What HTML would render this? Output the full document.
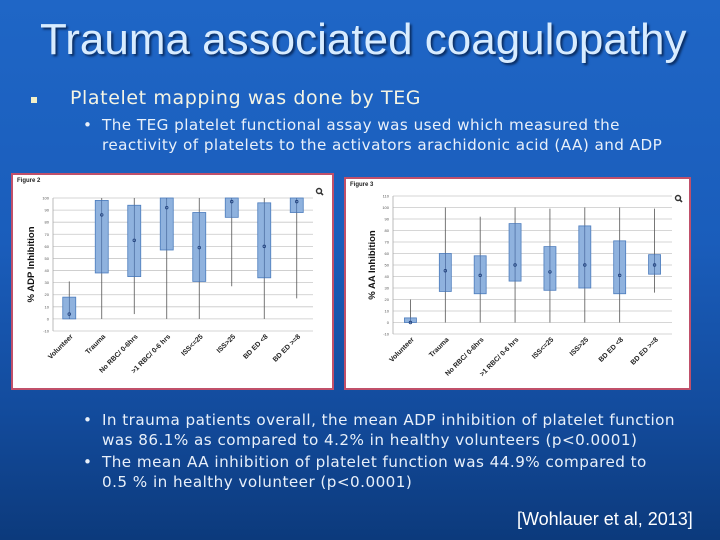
<!DOCTYPE html>
<html><head><meta charset="utf-8"><style>
body{margin:0;width:720px;height:540px;overflow:hidden;font-family:"Liberation Sans",sans-serif;}
#slide{position:relative;width:720px;height:540px;background:linear-gradient(180deg,#1f66c6 0%,#1a5dbb 45%,#134c9e 75%,#0c3a7c 100%);color:#fff;}
.t{position:absolute;white-space:nowrap;}
.v{font-family:"DejaVu Sans",sans-serif;}
.sb{font-size:15.2px;letter-spacing:0.45px;color:#e8f0fa;}
</style></head><body>
<div id="slide">
<div class="t" style="left:40px;top:15px;font-size:44px;color:#d8ecff;text-shadow:2px 2px 2px #0a2c60;">Trauma associated coagulopathy</div>
<div class="t" style="left:31px;top:97px;width:6px;height:6px;background:#f3f0c8"></div>
<div class="t v" style="left:70px;top:87px;font-size:19px;letter-spacing:0.6px;color:#f4f4e4">Platelet mapping was done by TEG</div>
<div class="t v sb" style="left:83px;top:115px;line-height:20px">•</div>
<div class="t v sb" style="left:102px;top:115px;line-height:20px">The TEG platelet functional assay was used which measured the<br>reactivity of platelets to the activators arachidonic acid (AA) and ADP</div>
<div class="t v sb" style="left:83px;top:411px;line-height:19.5px">•</div>
<div class="t v sb" style="left:102px;top:411px;line-height:19.5px">In trauma patients overall, the mean ADP inhibition of platelet function<br>was 86.1% as compared to 4.2% in healthy volunteers (p&lt;0.0001)</div>
<div class="t v sb" style="left:83px;top:453px;line-height:19.5px">•</div>
<div class="t v sb" style="left:102px;top:453px;line-height:19.5px">The mean AA inhibition of platelet function was 44.9% compared to<br>0.5 % in healthy volunteer (p&lt;0.0001)</div>
<div class="t" style="left:517px;top:509px;font-size:18px;color:#fff">[Wohlauer et al, 2013]</div>
<svg id="chart" width="720" height="540" style="position:absolute;left:0;top:0"></svg>
</div>
<script>
const categories=["Volunteer","Trauma","No RBC/ 0-6hrs",">1 RBC/ 0-6 hrs","ISS<=25","ISS>25","BD ED <8","BD ED >=8"];
const adpLow=[0,0,4,0,0,27,0,17];
const adpQ1=[0,38,35,57,31,84,34,88];
const adpMid=[4,86,65,92,59,97,60,97];
const adpQ3=[18,98,94,100,88,100,96,100];
const adpHigh=[31,100,100,100,100,100,100,100];
const adpTicks=[-10,0,10,20,30,40,50,60,70,80,90,100];
const aaLow=[0,0,0,0,0,0,0,26];
const aaQ1=[0,27,25,36,28,30,25,42];
const aaMid=[0,45,41,50,44,50,41,50];
const aaQ3=[4,60,58,86,66,84,71,59];
const aaHigh=[20,100,92,100,99,100,100,99];
const aaTicks=[-10,0,10,20,30,40,50,60,70,80,90,100,110];
const NS="http://www.w3.org/2000/svg";
const svg=document.getElementById('chart');
function mk(t,a,p){const e=document.createElementNS(NS,t);for(const k in a)e.setAttribute(k,a[k]);(p||svg).appendChild(e);return e;}
function draw(o){
  const g=mk('g',{});
  
  
  const fr=mk('rect',{x:o.fx,y:o.fy,width:o.fw,height:o.fh,fill:'#fff',stroke:'#c0506a','stroke-width':2},g);
  
  
  const ft=mk('text',{x:o.fx+5,y:o.fy+8,'font-size':6,'font-weight':'bold',fill:'#222'},g);ft.textContent=o.fig;
  
  
  const y=v=>o.y0+(v-o.vmin)/(o.vmax-o.vmin)*(o.y1-o.y0);
  const step=(o.x1-o.x0)/categories.length;
  const x=i=>o.x0+step*(i+0.5);
  o.ticks.forEach(t=>{
    const gl=mk('line',{x1:o.x0,x2:o.x1,y1:y(t),y2:y(t),stroke:'#c8c8c8','stroke-width':0.8},g);
    
    
    const tl=mk('text',{x:o.x0-4,y:y(t)+1.5,'font-size':4,'text-anchor':'end',fill:'#555'},g);tl.textContent=t;
    
    
  });
  mk('line',{x1:o.x0,x2:o.x0,y1:y(o.vmin),y2:y(o.vmax),stroke:'#aaa','stroke-width':0.8},g);
  categories.forEach((c,i)=>{
    const cx=x(i);
    const w=mk('line',{x1:cx,x2:cx,y1:y(o.low[i]),y2:y(o.high[i]),stroke:'#555','stroke-width':0.8},g);
    
    
    const b=mk('rect',{x:cx-o.bw/2,y:y(o.q3[i]),width:o.bw,height:Math.max(0.5,y(o.q1[i])-y(o.q3[i])),fill:'#8fb2de',stroke:'#4c7cbd','stroke-width':0.8},g);
    
    
    mk('line',{x1:cx,x2:cx,y1:y(o.q3[i]),y2:y(o.q1[i]),stroke:'#3a5a90','stroke-width':0.6},g);
    const m=mk('circle',{cx:cx,cy:y(o.mid[i]),r:1.3,fill:'none',stroke:'#1f3f7a','stroke-width':0.8},g);
    
    
    const lx=cx+4,ly=y(o.vmin)+6;
    const l=mk('text',{x:lx,y:ly,'font-size':7,'font-weight':'bold','text-anchor':'end',fill:'#222',transform:`rotate(-45 ${lx} ${ly})`},g);l.textContent=c;
    
    
  });
  const ym=(o.y0+o.y1)/2;
  const yl=mk('text',{x:o.ylx,y:ym,'font-size':o.yfs,'font-weight':'bold','text-anchor':'middle',fill:'#111',transform:`rotate(-90 ${o.ylx} ${ym})`},g);yl.textContent=o.ylabel;
  
  
  const zi=mk('g',{},g);
  
  
  mk('circle',{cx:o.zx,cy:o.zy,r:2.5,fill:'none',stroke:'#333','stroke-width':1.4},zi);
  mk('line',{x1:o.zx+1.8,y1:o.zy+1.8,x2:o.zx+4,y2:o.zy+4,stroke:'#333','stroke-width':1.6},zi);
}
draw({name:'adp-chart',fig:'Figure 2',fx:12,fy:174,fw:321,fh:215,x0:53,x1:313,y0:331,y1:198,vmin:-10,vmax:100,ticks:adpTicks,
  low:adpLow,q1:adpQ1,mid:adpMid,q3:adpQ3,high:adpHigh,bw:13,ylabel:'% ADP Inhibition',ylx:34,yfs:9.5,zx:319,zy:191});
draw({name:'aa-chart',fig:'Figure 3',fx:345,fy:178,fw:345,fh:211,x0:393,x1:672,y0:334,y1:196,vmin:-10,vmax:110,ticks:aaTicks,
  low:aaLow,q1:aaQ1,mid:aaMid,q3:aaQ3,high:aaHigh,bw:12,ylabel:'% AA Inhibition',ylx:375,yfs:9.5,zx:678,zy:198});
</script>
</body></html>
